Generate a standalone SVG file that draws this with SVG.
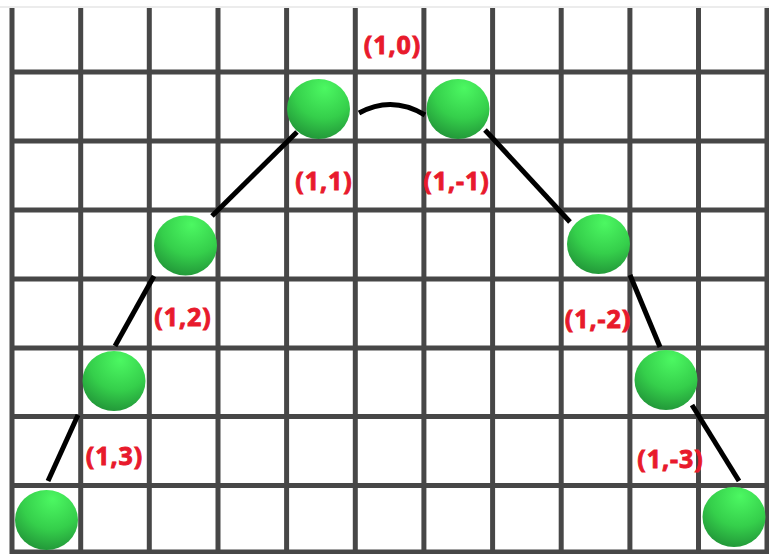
<svg xmlns="http://www.w3.org/2000/svg" width="769" height="554" viewBox="0 0 769 554">
  <style>
    .grid line { stroke: #474747; stroke-width: 5; }
    .edge { stroke: #000; stroke-width: 5; fill: none; stroke-linecap: butt; }
    .ball { fill: url(#ballFill); }
    .lbl { font-family: "Noto Sans", "Open Sans", sans-serif; font-weight: 700; font-size: 25px; fill: #e81a2c; stroke: #e81a2c; stroke-width: 0.9px; text-anchor: middle; letter-spacing: 1px; }
  </style>
  <defs>
    <radialGradient id="ballFill" cx="0.58" cy="0.22" r="0.85" fx="0.6" fy="0.15">
      <stop offset="0" stop-color="#4cf862"/>
      <stop offset="0.55" stop-color="#35cf4b"/>
      <stop offset="1" stop-color="#1f8f36"/>
    </radialGradient>
  </defs>

  <rect x="0" y="0" width="769" height="554" fill="#ffffff"/>
  <line x1="0" y1="7" x2="769" y2="7" stroke="#ececec" stroke-width="2"/>

  <!-- square grid -->
  <g class="grid" id="grid">
    <line x1="12" y1="8" x2="12" y2="554"/>
    <line x1="80.7" y1="8" x2="80.7" y2="554"/>
    <line x1="149.3" y1="8" x2="149.3" y2="554"/>
    <line x1="218" y1="8" x2="218" y2="554"/>
    <line x1="286.6" y1="8" x2="286.6" y2="554"/>
    <line x1="355.3" y1="8" x2="355.3" y2="554"/>
    <line x1="423.9" y1="8" x2="423.9" y2="554"/>
    <line x1="492.6" y1="8" x2="492.6" y2="554"/>
    <line x1="561.2" y1="8" x2="561.2" y2="554"/>
    <line x1="629.9" y1="8" x2="629.9" y2="554"/>
    <line x1="698.5" y1="8" x2="698.5" y2="554"/>
    <line x1="767" y1="8" x2="767" y2="554"/>
    <line x1="12" y1="72" x2="769" y2="72"/>
    <line x1="12" y1="141" x2="769" y2="141"/>
    <line x1="12" y1="210" x2="769" y2="210"/>
    <line x1="12" y1="279" x2="769" y2="279"/>
    <line x1="12" y1="348" x2="769" y2="348"/>
    <line x1="12" y1="416.5" x2="769" y2="416.5"/>
    <line x1="12" y1="485.5" x2="769" y2="485.5"/>
    <line x1="12" y1="552" x2="769" y2="552"/>
  </g>

  <!-- connectors between neighbouring balls -->
  <g id="connectors">
    <path class="edge" d="M359,113 Q392,95 425,115"/>
    <line class="edge" x1="297" y1="132" x2="212" y2="216"/>
    <line class="edge" x1="485" y1="130" x2="570" y2="222"/>
    <line class="edge" x1="154" y1="276" x2="115" y2="346"/>
    <line class="edge" x1="630" y1="275" x2="660" y2="347"/>
    <line class="edge" x1="78" y1="415" x2="48" y2="481"/>
    <line class="edge" x1="692" y1="405" x2="739" y2="481"/>
  </g>

  <!-- balls -->
  <g id="node-1-1"><ellipse class="ball" cx="318.5" cy="109" rx="31.5" ry="30"/></g>
  <g id="node-1-m1"><ellipse class="ball" cx="458" cy="109" rx="31.5" ry="30"/></g>
  <g id="node-1-2"><ellipse class="ball" cx="185.5" cy="245.5" rx="31.5" ry="30"/></g>
  <g id="node-1-m2"><ellipse class="ball" cx="598.5" cy="244" rx="31.5" ry="30"/></g>
  <g id="node-1-3"><ellipse class="ball" cx="114" cy="381" rx="31.5" ry="30"/></g>
  <g id="node-1-m3"><ellipse class="ball" cx="666" cy="380" rx="31.5" ry="30"/></g>
  <g id="node-end-left"><ellipse class="ball" cx="46.5" cy="520" rx="31.5" ry="30"/></g>
  <g id="node-end-right"><ellipse class="ball" cx="734" cy="517" rx="31.5" ry="30"/></g>

  <!-- coordinate labels -->
  <g id="labels">
    <text class="lbl" x="392.5" y="54">(1,0)</text>
    <text class="lbl" x="324" y="190">(1,1)</text>
    <text class="lbl" x="456.5" y="190">(1,-1)</text>
    <text class="lbl" x="183" y="326">(1,2)</text>
    <text class="lbl" x="598" y="328">(1,-2)</text>
    <text class="lbl" x="114.5" y="465">(1,3)</text>
    <text class="lbl" x="670.5" y="468">(1,-3)</text>
  </g>
</svg>
